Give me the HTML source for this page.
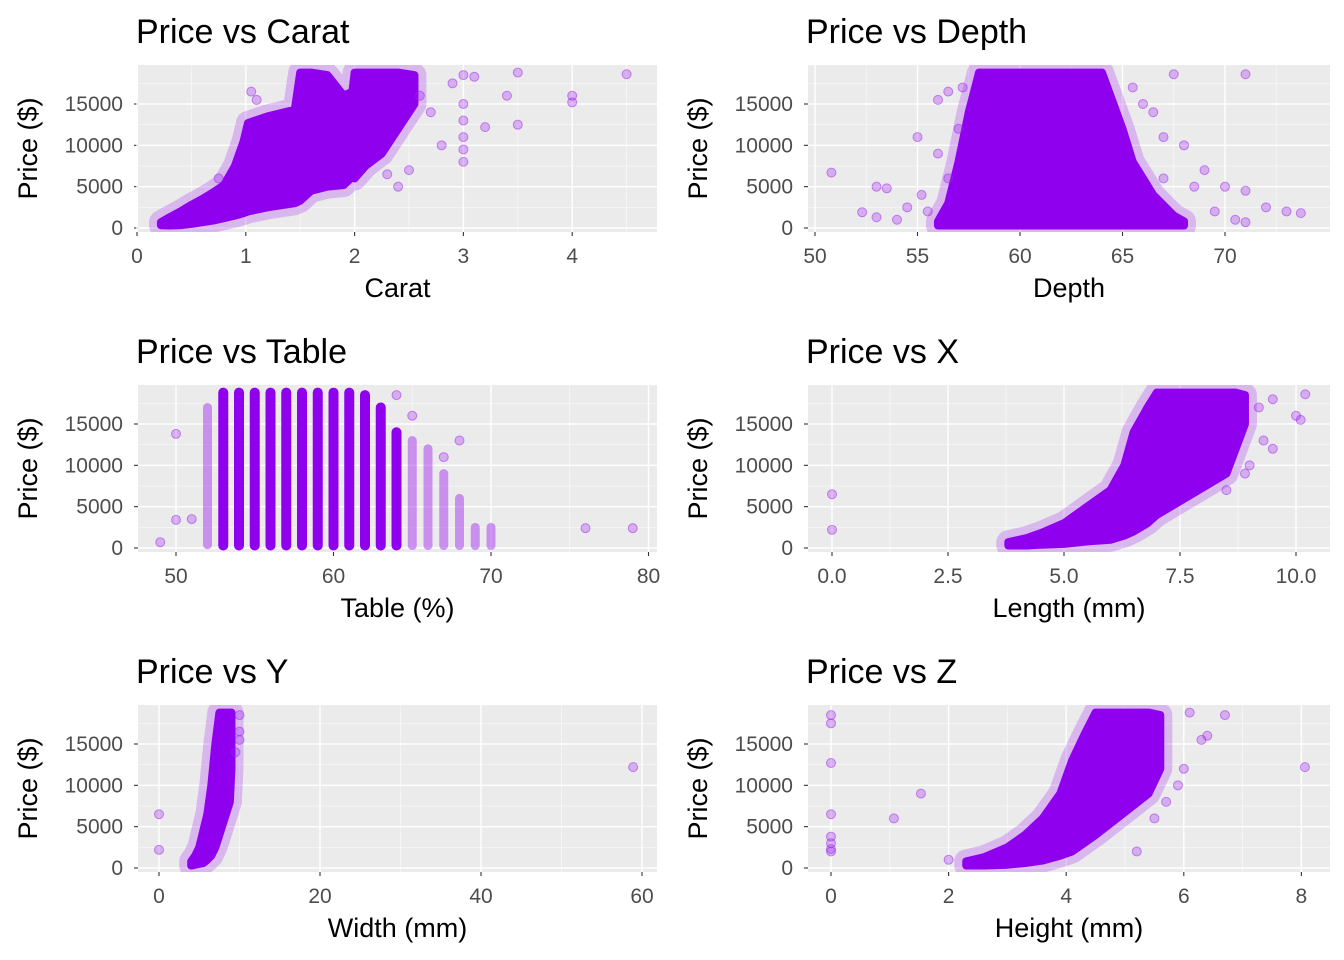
<!DOCTYPE html>
<html><head><meta charset="utf-8"><style>
html,body{margin:0;padding:0;background:#fff}
svg{display:block;font-family:"Liberation Sans",Arial,sans-serif}
</style></head><body>
<svg id="chart" width="1344" height="960" viewBox="0 0 1344 960" xmlns="http://www.w3.org/2000/svg"></svg>
<script>
// ---- data ----
const panelTitles = ["Price vs Carat","Price vs Depth","Price vs Table","Price vs X","Price vs Y","Price vs Z"];
const xAxisTitles = ["Carat","Depth","Table (%)","Length (mm)","Width (mm)","Height (mm)"];
const yTicks = [0,5000,10000,15000];
const xTicksCarat = [0,1,2,3,4];
const xTicksDepth = [50,55,60,65,70];
const xTicksTable = [50,60,70,80];
const xTicksX = [0,2.5,5,7.5,10];
const xTickLabelsX = ["0.0","2.5","5.0","7.5","10.0"];
const xTicksY = [0,20,40,60];
const xTicksZ = [0,2,4,6,8];
// dense clouds (area): [x, priceLow, priceHigh]
const denseCarat = [[0.22,330,700],[0.3,300,1300],[0.4,350,2000],[0.5,500,2800],[0.6,700,3500],[0.7,900,4300],[0.8,1200,5200],[0.9,1500,7500],[0.98,1800,10500],[1.02,2000,12700],[1.2,2500,13500],[1.45,3000,14300],[1.5,3300,18800],[1.6,4500,18800],[1.75,5000,18500],[1.9,5200,16000],[1.98,6200,16500],[2.0,6000,18800],[2.1,7500,18800],[2.25,9000,18800],[2.4,12000,18800],[2.55,15000,18500]];
const outCarat = [[3,18500],[3.5,18800],[4,16000],[4,15200],[4.5,18600],[3,8000],[3,9500],[3,11000],[3,13000],[3.4,16000],[2.8,10000],[2.7,14000],[3.0,15000],[3.5,12500],[3.2,12200],[2.5,7000],[2.6,16000],[2.9,17500],[3.1,18300],[2.4,5000],[2.3,6500],[1.05,16500],[1.1,15500],[0.75,6000]];
const denseDepth = [[56,300,800],[56.5,300,3000],[57,300,8000],[57.5,300,14000],[58,300,18800],[64,300,18800],[65,300,12000],[65.5,300,8000],[66.5,300,4000],[67.5,300,1500],[68,300,800]];
const outDepth = [[50.8,6700],[52.3,1900],[53,5000],[53.5,4800],[53,1300],[54,1000],[55,11000],[56,15500],[56.5,16500],[71,18600],[67.5,18600],[70,5000],[71,4500],[72,2500],[73,2000],[73.7,1800],[69,7000],[68,10000],[70.5,1000],[71,700],[67,11000],[57,12000],[56,9000],[54.5,2500],[55.2,4000],[66,15000],[66.5,14000],[67,6000],[68.5,5000],[69.5,2000],[55.5,2000],[56.5,6000],[65.5,17000],[57.2,17000]];
const denseTable = [[53,300,18800],[54,300,18800],[55,300,18800],[56,300,18800],[57,300,18800],[58,300,18800],[59,300,18800],[60,300,18800],[61,300,18800],[62,300,18500],[63,300,17000],[64,300,14000]];
const sparseTable = [[52,400,17000],[65,300,13000],[66,300,12000],[67,300,9000],[68,300,6000],[69,300,2500],[70,300,2500]];
const outTable = [[49,700],[50,13800],[50,3400],[51,3500],[76,2400],[79,2400],[68,13000],[67,11000],[64,18500],[65,16000]];
const denseX = [[3.8,300,700],[4.2,300,1200],[4.5,400,1800],[5,500,3000],[5.5,800,5000],[6,1000,7000],[6.3,1500,10000],[6.5,2000,14000],[6.8,3000,17000],[7,4000,18800],[8.5,9000,18800],[8.7,12000,18800],[8.9,15000,18500]];
const outX = [[0,6500],[0,2200],[9.5,18000],[10,16000],[10.2,18600],[10.1,15500],[9.3,13000],[9.5,12000],[9,10000],[9.2,17000],[8.9,9000],[8.5,7000]];
const denseY = [[4,300,800],[4.5,400,1500],[5,500,2500],[5.5,600,4500],[6,1000,6500],[6.5,1500,10000],[7,2500,15000],[7.5,4000,18800],[8.8,8000,18800],[9,12000,18800]];
const outY = [[0,6500],[0,2200],[58.9,12200],[10,15500],[10,16500],[10,18500],[9.5,14000]];
const denseZ = [[2.3,300,800],[2.6,300,1300],[3,400,2500],[3.3,600,4000],[3.6,900,6000],[3.9,1500,9000],[4.1,2000,13000],[4.3,3000,16000],[4.5,4000,18800],[5.4,9000,18800],[5.6,12000,18500]];
const outZ = [[0,18500],[0,17500],[0,12700],[0,6500],[0,3800],[0,3000],[0,2300],[0,2000],[1.07,6000],[1.53,9000],[2,1000],[6.7,18500],[6.1,18800],[8.06,12200],[6,12000],[6.3,15500],[6.4,16000],[5.7,8000],[5.9,10000],[5.2,2000],[5.5,6000]];

// ---- layout ----
const NS="http://www.w3.org/2000/svg";
const svg=document.getElementById('chart');
function mk(tag,attrs,parent){const e=document.createElementNS(NS,tag);for(const k in attrs)e.setAttribute(k,attrs[k]);(parent||svg).appendChild(e);return e;}
const panels=[
 {col:0,row:0,x0:137,ppu:108.8,v0:0,ticks:xTicksCarat,labels:null,dense:denseCarat,cols:[],sparse:[],out:outCarat},
 {col:1,row:0,x0:815,ppu:20.5,v0:50,ticks:xTicksDepth,labels:null,dense:denseDepth,cols:[],sparse:[],out:outDepth},
 {col:0,row:1,x0:176,ppu:15.75,v0:50,ticks:xTicksTable,labels:null,dense:[],cols:denseTable,sparse:sparseTable,out:outTable},
 {col:1,row:1,x0:832,ppu:46.4,v0:0,ticks:xTicksX,labels:xTickLabelsX,dense:denseX,cols:[],sparse:[],out:outX},
 {col:0,row:2,x0:159,ppu:8.05,v0:0,ticks:xTicksY,labels:null,dense:denseY,cols:[],sparse:[],out:outY},
 {col:1,row:2,x0:831,ppu:58.8,v0:0,ticks:xTicksZ,labels:null,dense:denseZ,cols:[],sparse:[],out:outZ}
];
const colL=[138,808], colR=[657,1330], rowT=[65,385,705], rowB=[232,552,872], rowZero=[228,548,868];
const ypp=124/15000;
const PURPLE="#A020F0";
panels.forEach((p,i)=>{
  const L=colL[p.col],R=colR[p.col],T=rowT[p.row],B=rowB[p.row];
  const v0=p.v0;
  const sx=v=>p.x0+(v-v0)*p.ppu;
  const sy=v=>rowZero[p.row]-v*ypp;
  const g=mk('g',{});
  
  
  const bg=mk('rect',{x:L,y:T,width:R-L,height:B-T,fill:'#EBEBEB'},g);
  
  
  for(let k=0;k<4;k++){const y=sy(2500+5000*k);if(y>T)mk('line',{x1:L,x2:R,y1:y,y2:y,stroke:'#fff','stroke-width':0.7,opacity:0.7},g);}
  const st=p.ticks[1]-p.ticks[0];
  for(let m=p.ticks[0]-st/2;m<=p.ticks[p.ticks.length-1]+st/2+1e-9;m+=st){const x=sx(m);if(x>L&&x<R)mk('line',{x1:x,x2:x,y1:T,y2:B,stroke:'#fff','stroke-width':0.7,opacity:0.7},g);}
  yTicks.forEach(t=>{const y=sy(t);mk('line',{x1:L,x2:R,y1:y,y2:y,stroke:'#fff','stroke-width':1.4},g);
    mk('line',{x1:L-4,x2:L,y1:y,y2:y,stroke:'#333','stroke-width':1.1},g);
    const tx=mk('text',{x:L-15,y:y+7,'text-anchor':'end','font-size':21,fill:'#4D4D4D'},g);tx.textContent=t;
    });
  p.ticks.forEach((t,k)=>{const x=sx(t);mk('line',{x1:x,x2:x,y1:T,y2:B,stroke:'#fff','stroke-width':1.4},g);
    mk('line',{x1:x,x2:x,y1:B,y2:B+4,stroke:'#333','stroke-width':1.1},g);
    const tx=mk('text',{x:x,y:B+31,'text-anchor':'middle','font-size':21,fill:'#4D4D4D'},g);tx.textContent=p.labels?p.labels[k]:t;
    });
  const clip=mk('clipPath',{id:'c'+i},g);mk('rect',{x:L,y:T,width:R-L,height:B-T},clip);
  const pts=mk('g',{'clip-path':'url(#c'+i+')'},g);
  
  
  p.sparse.forEach(d=>{const s=mk('line',{x1:sx(d[0]),x2:sx(d[0]),y1:sy(d[1]),y2:sy(d[2]),stroke:PURPLE,'stroke-width':9,'stroke-linecap':'round',opacity:0.45},pts);
    });
  p.cols.forEach(d=>{const s=mk('line',{x1:sx(d[0]),x2:sx(d[0]),y1:sy(d[1]),y2:sy(d[2]),stroke:'#8F00EE','stroke-width':10,'stroke-linecap':'round'},pts);
    });
  if(p.dense.length){
    const top=p.dense.map(d=>sx(d[0])+','+sy(d[2]));
    const bot=p.dense.slice().reverse().map(d=>sx(d[0])+','+sy(d[1]));
    const ptsStr=top.concat(bot).join(' ');
    mk('polygon',{points:ptsStr,fill:PURPLE,stroke:PURPLE,'stroke-width':24,'stroke-linejoin':'round',opacity:0.25},pts);
    const a=mk('polygon',{points:ptsStr,fill:'#8F00EE',stroke:'#8F00EE','stroke-width':8,'stroke-linejoin':'round'},pts);
    
  }
  p.out.forEach(d=>{const c=mk('circle',{cx:sx(d[0]),cy:sy(d[1]),r:4.5,fill:'rgba(160,32,240,0.3)',stroke:'rgba(160,32,240,0.5)','stroke-width':1},pts);
    });
  const tt=mk('text',{x:L-2,y:T-22,'font-size':34,fill:'#000'},g);tt.textContent=panelTitles[i];
  
  const xt=mk('text',{x:(L+R)/2,y:B+65,'text-anchor':'middle','font-size':27,fill:'#000'},g);xt.textContent=xAxisTitles[i];
  
  const yx=L-101,yy=(T+B)/2;
  const yt=mk('text',{x:yx,y:yy,'text-anchor':'middle','font-size':27,fill:'#000',transform:'rotate(-90 '+yx+' '+yy+')'},g);yt.textContent="Price ($)";
  
});
</script>
</body></html>
